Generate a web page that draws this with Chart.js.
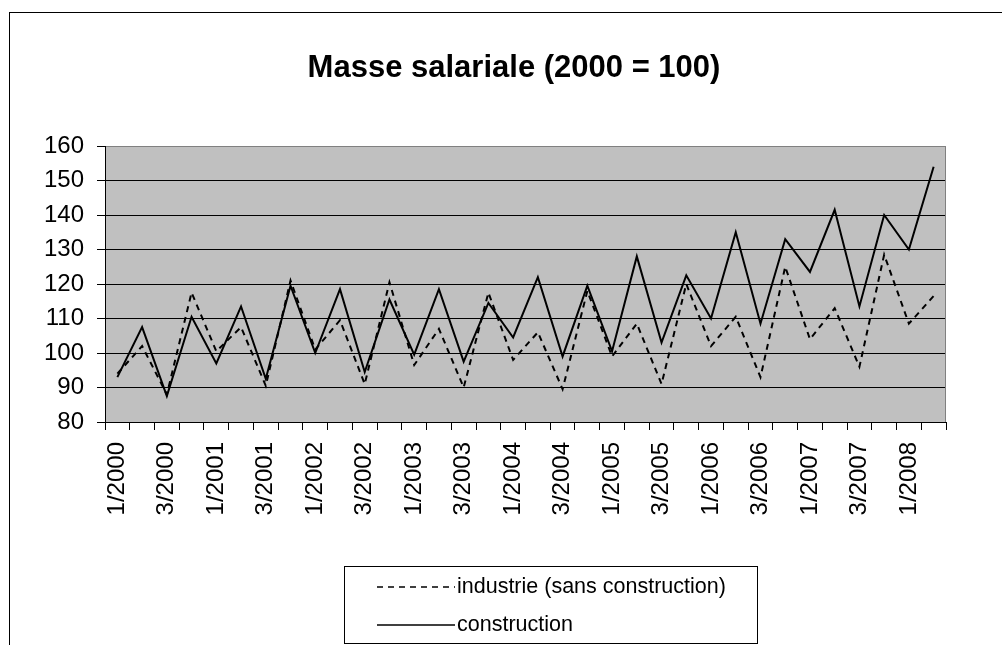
<!DOCTYPE html>
<html><head><meta charset="utf-8">
<script src="https://cdn.jsdelivr.net/npm/chart.js@4.4.0/dist/chart.umd.min.js"></script>
<style>html,body{margin:0;padding:0;background:#fff;overflow:hidden}canvas{display:block}</style>
</head><body><canvas id="c" width="1002" height="645"></canvas>
<script>
const categories = ['1/2000','2/2000','3/2000','4/2000','1/2001','2/2001','3/2001','4/2001',
  '1/2002','2/2002','3/2002','4/2002','1/2003','2/2003','3/2003','4/2003',
  '1/2004','2/2004','3/2004','4/2004','1/2005','2/2005','3/2005','4/2005',
  '1/2006','2/2006','3/2006','4/2006','1/2007','2/2007','3/2007','4/2007',
  '1/2008','2/2008'];
const industrie = [94,102,88,117.5,100.5,107.5,90.5,121,101,109.5,91,120.5,96.5,107,90,117.5,
  98,106,89.5,118,99,108.5,91,120,102,110.5,93,125,104,113,96,128.5,108.5,116.5];
const construction = [93,107.5,87.5,110.5,97,113.5,92.5,119.5,100,118.5,94.5,115.5,99.5,118.5,97.5,114.5,
  104.5,122,99,119.5,100.5,128,103,122.5,110,135,108.5,133,123.5,141.5,113.5,140,130,154];
const seriesLabels = ['industrie (sans construction)','construction'];
const yMin = 80, yMax = 160, yStep = 10;
const titleText = 'Masse salariale (2000 = 100)';

const FONT = '"Liberation Sans", Arial, sans-serif';

const decor = {
  id: 'decor',
  beforeDraw(chart) {
    const {ctx, chartArea: a} = chart;
    ctx.save();
    ctx.fillStyle = '#fff';
    ctx.fillRect(0, 0, chart.width, chart.height);
    ctx.fillStyle = '#C0C0C0';
    ctx.fillRect(a.left, a.top, a.right - a.left, a.bottom - a.top);
    ctx.strokeStyle = '#000';
    ctx.lineWidth = 1;
    ctx.strokeRect(9.5, 12.5, 1300, 1300);
    ctx.restore();
  },
  beforeDatasetsDraw(chart) {
    const {ctx, chartArea: a} = chart;
    ctx.save();
    ctx.strokeStyle = '#808080';
    ctx.lineWidth = 1;
    ctx.beginPath();
    ctx.moveTo(Math.round(a.right) - 0.5, a.top);
    ctx.lineTo(Math.round(a.right) - 0.5, a.bottom);
    ctx.stroke();
    ctx.restore();
  },
  afterDraw(chart) {
    const ctx = chart.ctx;
    ctx.save();
    ctx.fillStyle = '#000';
    ctx.font = 'bold 31px ' + FONT;
    ctx.textAlign = 'center';
    ctx.textBaseline = 'middle';
    ctx.fillText(titleText, 514, 68);
    // legend
    ctx.strokeStyle = '#000';
    ctx.lineWidth = 1;
    ctx.strokeRect(344.5, 566.5, 413, 77);
    ctx.font = '21.5px ' + FONT;
    ctx.textAlign = 'left';
    ctx.textBaseline = 'middle';
    const rows = [587, 625];
    chart.data.datasets.forEach((ds, i) => {
      const y = rows[i];
      ctx.beginPath();
      ctx.setLineDash(ds.borderDash || []);
      ctx.lineWidth = 1.6;
      ctx.moveTo(377, y);
      ctx.lineTo(455, y);
      ctx.stroke();
      ctx.setLineDash([]);
      ctx.fillText(ds.label, 457, y);
    });
    ctx.restore();
  }
};

new Chart(document.getElementById('c'), {
  type: 'line',
  data: {
    labels: categories,
    datasets: [
      {label: seriesLabels[0], data: industrie, borderColor: '#000', borderWidth: 2,
       borderDash: [6, 5], pointRadius: 0, tension: 0, fill: false},
      {label: seriesLabels[1], data: construction, borderColor: '#000', borderWidth: 2,
       pointRadius: 0, tension: 0, fill: false}
    ]
  },
  options: {
    responsive: false,
    animation: false,
    events: [],
    layout: {padding: {top: 146, left: 0, right: 56, bottom: 0}},
    plugins: {legend: {display: false}, title: {display: false}, tooltip: {enabled: false}},
    scales: {
      x: {
        type: 'category',
        offset: true,
        grid: {display: true, drawOnChartArea: false, offset: true, tickLength: 8, color: '#000', lineWidth: 1},
        border: {display: true, color: '#000', width: 1},
        ticks: {
          autoSkip: false, minRotation: 90, maxRotation: 90, padding: 12,
          color: '#000', font: {family: FONT, size: 24},
          callback: function(v, i) { return i % 2 === 0 ? this.getLabelForValue(v) : ''; }
        },
        afterFit(scale) { scale.height = 223; }
      },
      y: {
        min: yMin, max: yMax,
        grid: {
          color: (c) => (c.tick && c.tick.value === yMax) ? '#808080' : '#000',
          tickColor: '#000', tickLength: 8, lineWidth: 1
        },
        border: {display: true, color: '#000', width: 1},
        ticks: {stepSize: yStep, padding: 13, color: '#000', font: {family: FONT, size: 24}},
        afterFit(scale) { scale.width = 105; }
      }
    }
  },
  plugins: [decor]
});
</script>
</body></html>
